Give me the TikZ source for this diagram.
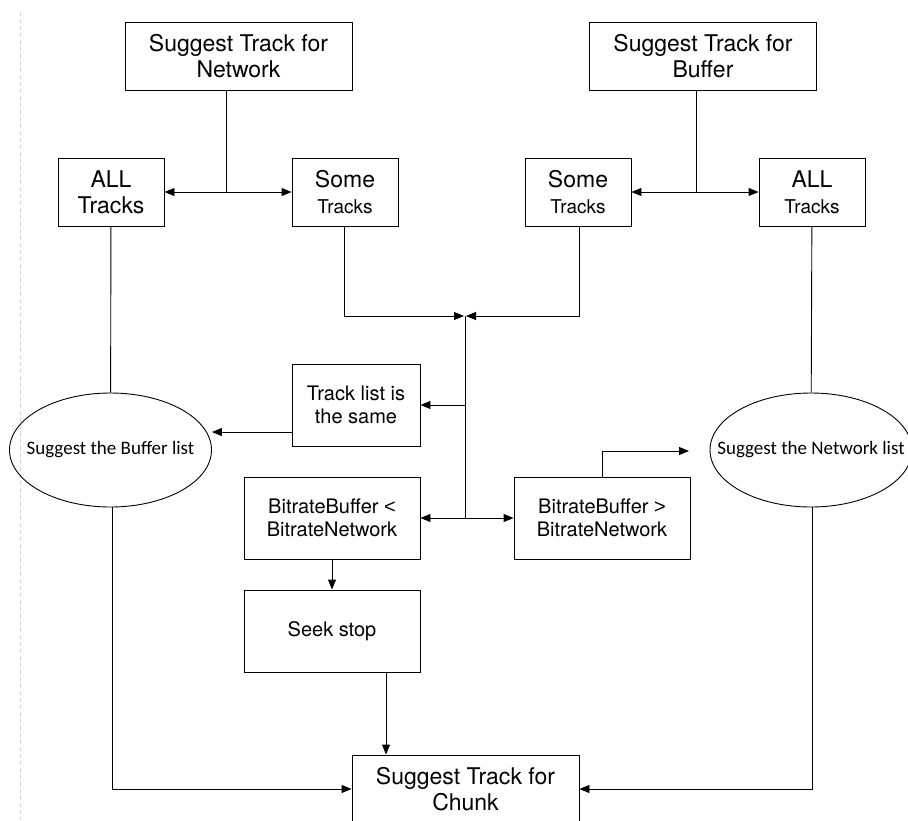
\documentclass[tikz,border=0pt]{standalone}
\usepackage{fontspec}
\setmainfont{TeX Gyre Heros}
\newfontfamily\ellfont{Carlito}
\newfontfamily\relfont{Liberation Sans}
\usetikzlibrary{arrows.meta,shapes.geometric}
\newcommand{\bigtxt}{\fontsize{23}{26}\selectfont}
\newcommand{\midtxt}{\fontsize{20}{23}\selectfont}
\newcommand{\smalltxt}{\fontsize{19}{23}\selectfont}

\begin{document}
\begin{tikzpicture}[x=1pt, y=-1pt, line width=0.9pt,
  >={Triangle[length=10pt,width=8pt]},
  box/.style={rectangle, draw, inner sep=0pt, align=center},
  bigbox/.style={box, minimum width=227pt, minimum height=68pt, font=\bigtxt},
  tbox/.style={box, minimum width=106pt, minimum height=68pt, font=\bigtxt},
  cbox/.style={box, minimum width=176pt, minimum height=82pt, font=\midtxt},
  listell/.style={ellipse, draw, inner sep=0pt, minimum width=202pt, minimum height=114pt, font=\ellfont\smalltxt}]
  \clip (0,0) rectangle (908,820);
  \draw[gray!35, line width=0.6pt, dash pattern=on 4pt off 3pt] (20,12) -- (20,820);

  % top row
  \node (net) [bigbox] at (238.5,56) {Suggest Track for\\Network};
  \node (buf) [bigbox] at (703,56) {Suggest Track for\\Buffer};
  \node (allL) [tbox] at (111,192) {ALL\\Tracks};
  \node (someL) [tbox] at (345,192) {Some\\\smalltxt Tracks};
  \node (someR) [tbox] at (578,192) {Some\\\smalltxt Tracks};
  \node (allR) [tbox] at (812,192) {ALL\\\smalltxt Tracks};

  % middle
  \node (bufList) [listell] at (110.5,450) {\makebox[0pt]{Suggest the Buffer list}};
  \node (netList) [listell] at (811,450) {\makebox[0pt]{Suggest the Network list}};
  \node (same) [cbox, minimum width=128pt] at (356,405) {Track list is\\the same};
  \node (less) [cbox] at (332,518) {BitrateBuffer {\relfont <}\\BitrateNetwork};
  \node (more) [cbox] at (602,518) {BitrateBuffer {\relfont >}\\BitrateNetwork};
  \node (seek) [cbox] at (332,631) {Seek stop};
  \node (chunk) [bigbox] at (465.5,789) {Suggest Track for\\Chunk};

  \coordinate (jNet) at (226,192);
  \coordinate (jBuf) at (696,192);
  \coordinate (jMid) at (465,316);
  \coordinate (jLow) at (465,518);
  \coordinate (tip) at (689,451);

  \draw (net.south -| jNet) -- (jNet);
  \draw[<->] (allL.east) -- (someL.west);
  \draw (buf.south -| jBuf) -- (jBuf);
  \draw[<->] (someR.east) -- (allR.west);
  \draw (allL) -- (bufList);
  \draw (allR) -- (netList);
  \draw[->] ([xshift=-1pt]someL.south) |- ([xshift=-1pt]jMid);
  \draw[->] ([xshift=1pt]someR.south) |- ([xshift=1pt]jMid);
  \draw (jMid) -- (jLow);
  \draw[->] (same.east -| jMid) -- (same.east);
  \draw[->] ([yshift=-27pt]same.west) -- ([yshift=-27pt]same.west -| bufList.east);
  \draw[<->] (less.east) -- (more.west);
  \draw[->] (more.north) |- (tip);
  \draw[->] (less) -- (seek);
  \draw[->] ([xshift=54pt]seek.south) -- ([xshift=54pt]seek.south |- chunk.north);
  \draw[->] ([xshift=1.5pt]bufList.south) |- (chunk.west);
  \draw[->] ([xshift=1pt]netList.south) |- (chunk.east);
\end{tikzpicture}
\end{document}
